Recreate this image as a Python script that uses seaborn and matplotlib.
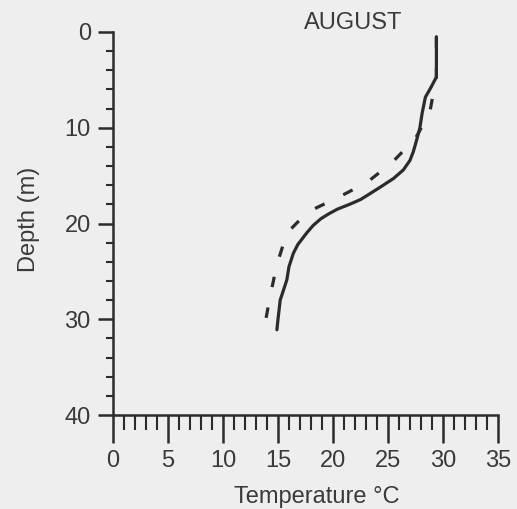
import matplotlib
matplotlib.use("Agg")
import matplotlib.pyplot as plt
from matplotlib.ticker import MultipleLocator
import pandas as pd
import seaborn as sns

# Temperature profiles (°C) against depth (m)
depth_solid = [0.5, 4.7, 5.8, 6.8, 8.5, 10.0, 11.3, 12.5, 13.4, 14.4, 15.3, 16.2,
               17.0, 17.5, 18.0, 18.5, 19.0, 19.5, 20.2, 21.0, 22.2, 23.1, 24.5,
               25.9, 28.0, 30.0, 31.1]
temp_solid = [29.4, 29.4, 28.9, 28.4, 28.1, 27.9, 27.6, 27.3, 27.0, 26.4, 25.5, 24.3,
              23.2, 22.5, 21.5, 20.4, 19.6, 18.9, 18.2, 17.6, 16.8, 16.4, 16.0,
              15.8, 15.2, 15.0, 14.9]

depth_dash = [0.5, 5.0, 6.5, 8.4, 11.1, 13.6, 15.7, 17.2, 18.8, 21.0, 24.3, 27.5, 30.6, 30.9]
temp_dash = [29.4, 29.4, 29.1, 28.8, 27.5, 25.4, 23.1, 20.6, 17.7, 15.8, 14.9, 14.3, 13.8, 13.6]

x_ticks = [0, 5, 10, 15, 20, 25, 30, 35]
y_ticks = [0, 10, 20, 30, 40]
title = "AUGUST"
x_label = "Temperature °C"
y_label = "Depth (m)"

sns.set_theme(style="ticks")
bg = "#eeeeee"
ink = "#2b2b2b"
txt = "#3a3a3a"
plt.rcParams["font.family"] = ["Liberation Sans", "DejaVu Sans"]

solid = pd.DataFrame({"temp": temp_solid, "depth": depth_solid})
dash = pd.DataFrame({"temp": temp_dash, "depth": depth_dash})

fig = plt.figure(figsize=(5.17, 5.09), dpi=100, facecolor=bg)
ax = fig.add_axes([113 / 517, 1 - 415 / 509, 385 / 517, 383 / 509])
ax.set_facecolor(bg)

sns.lineplot(data=solid, x="temp", y="depth", sort=False, estimator=None,
             color=ink, linewidth=2.3, ax=ax)
sns.lineplot(data=dash, x="temp", y="depth", sort=False, estimator=None,
             color=ink, linewidth=2.3, ax=ax)
ax.lines[-1].set_dashes((3.3, 6.5))
ax.lines[-1].set_dash_capstyle("butt")
for ln in ax.lines:
    ln.set_solid_joinstyle("round")
    ln.set_dash_joinstyle("round")

ax.set_xlim(0, 35)
ax.set_ylim(40, 0)
ax.set_xticks(x_ticks)
ax.set_yticks(y_ticks)
ax.xaxis.set_minor_locator(MultipleLocator(1))
ax.yaxis.set_minor_locator(MultipleLocator(2))

for s in ("top", "right"):
    ax.spines[s].set_visible(False)
for s in ("left", "bottom"):
    ax.spines[s].set_color(ink)
    ax.spines[s].set_linewidth(1.8)

ax.tick_params(axis="x", which="major", direction="out", length=20, width=1.8,
               color=ink, labelsize=17, labelcolor=txt, pad=5)
ax.tick_params(axis="x", which="minor", direction="out", length=11, width=1.5, color=ink)
ax.tick_params(axis="y", which="major", direction="out", length=11, width=1.8,
               color=ink, labelsize=17, labelcolor=txt, pad=5)
ax.tick_params(axis="y", which="minor", direction="out", length=5, width=1.5, color=ink)

ax.set_xlabel(x_label, fontsize=17, color=txt)
ax.set_ylabel(y_label, fontsize=17, color=txt)
ax.xaxis.set_label_coords(0.53, -0.185)
ax.yaxis.set_label_coords(-0.19, 0.51)

ax.text(21.8, -0.9, title, ha="center", va="center", fontsize=17, color=txt,
        clip_on=False)

fig.savefig("out.png", dpi=100, facecolor=bg)
